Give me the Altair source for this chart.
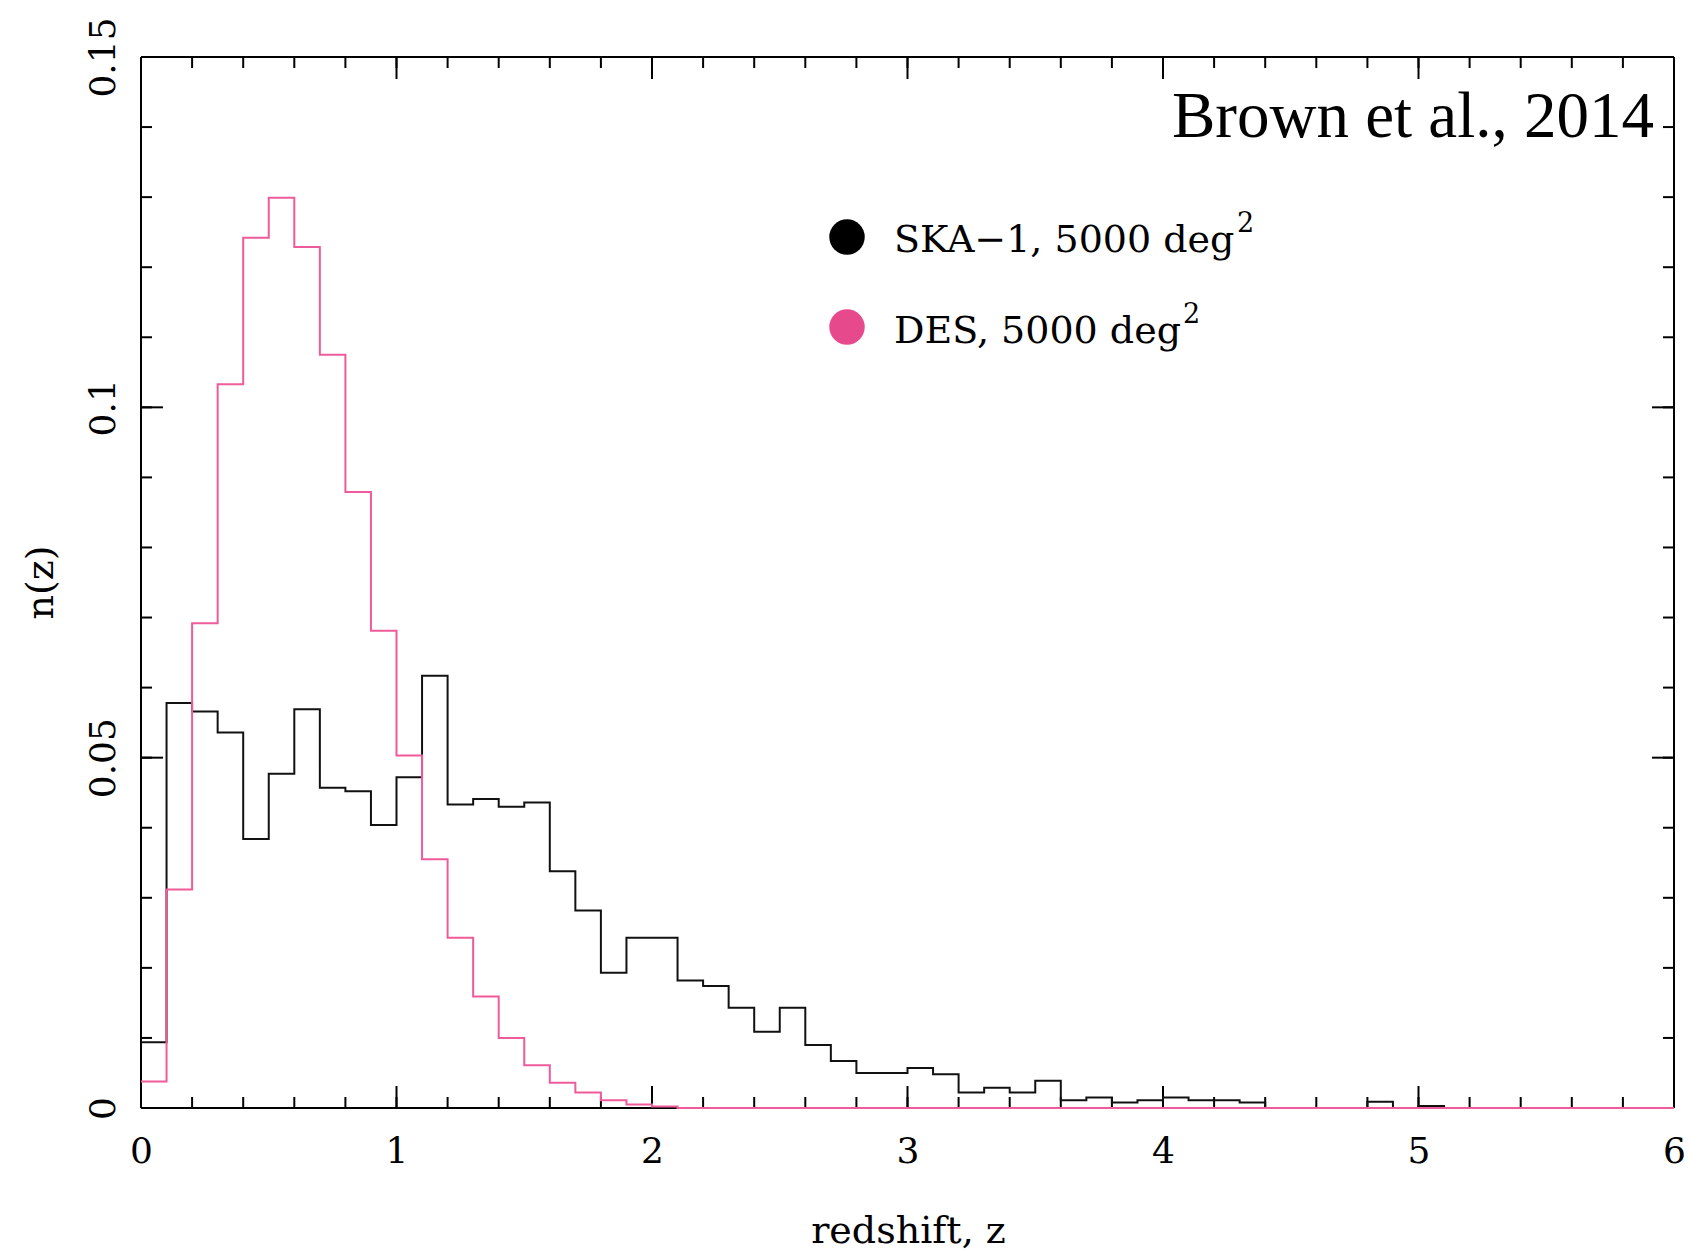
import altair as alt
import pandas as pd

# ---------------- data ----------------
# lower bin edges (width 0.1) from 0.0 to 5.9, plus the closing edge 6.0
z_edges = [0.0, 0.1, 0.2, 0.3, 0.4, 0.5, 0.6, 0.7, 0.8, 0.9,
           1.0, 1.1, 1.2, 1.3, 1.4, 1.5, 1.6, 1.7, 1.8, 1.9,
           2.0, 2.1, 2.2, 2.3, 2.4, 2.5, 2.6, 2.7, 2.8, 2.9,
           3.0, 3.1, 3.2, 3.3, 3.4, 3.5, 3.6, 3.7, 3.8, 3.9,
           4.0, 4.1, 4.2, 4.3, 4.4, 4.5, 4.6, 4.7, 4.8, 4.9,
           5.0, 5.1, 5.2, 5.3, 5.4, 5.5, 5.6, 5.7, 5.8, 5.9, 6.0]

ska_nz = [0.0094, 0.0578, 0.0566, 0.0536, 0.0384, 0.0477, 0.0569, 0.0457, 0.0452, 0.0404,
          0.0472, 0.0617, 0.0433, 0.0441, 0.0430, 0.0436, 0.0338, 0.0282, 0.0193, 0.0243,
          0.0243, 0.0182, 0.0174, 0.0143, 0.0109, 0.0143, 0.0090, 0.0067, 0.0050, 0.0050,
          0.0057, 0.0048, 0.0022, 0.0029, 0.0022, 0.0039, 0.0011, 0.0015, 0.0008, 0.0011,
          0.0015, 0.0011, 0.0011, 0.0008, 0.0, 0.0, 0.0, 0.0, 0.0009, 0.0,
          0.0003, 0.0, 0.0, 0.0, 0.0, 0.0, 0.0, 0.0, 0.0, 0.0]

des_nz = [0.0038, 0.0312, 0.0692, 0.1033, 0.1242, 0.1299, 0.1229, 0.1075, 0.0879, 0.0681,
          0.0503, 0.0355, 0.0243, 0.0159, 0.0100, 0.0061, 0.0036, 0.0022, 0.0011, 0.0005,
          0.0002, 0.0, 0.0, 0.0, 0.0, 0.0, 0.0, 0.0, 0.0, 0.0,
          0.0, 0.0, 0.0, 0.0, 0.0, 0.0, 0.0, 0.0, 0.0, 0.0,
          0.0, 0.0, 0.0, 0.0, 0.0, 0.0, 0.0, 0.0, 0.0, 0.0,
          0.0, 0.0, 0.0, 0.0, 0.0, 0.0, 0.0, 0.0, 0.0, 0.0]

x_tick_labels = [0, 1, 2, 3, 4, 5, 6]
y_tick_labels = [0, 0.05, 0.1, 0.15]
x_minor_ticks = [round(i * 0.2, 1) for i in range(31)]
y_minor_ticks = [round(i * 0.01, 2) for i in range(16)]

legend_labels = ["SKA\u22121, 5000 deg", "DES, 5000 deg"]
legend_sup = "2"
credit = "Brown et al., 2014"

# ---------------- styling ----------------
W, H = 1533, 1051
BLACK = "#000000"
PINK_LINE = "#ef5b9a"
PINK_DOT = "#e64a8c"
FONT = "DejaVu Serif"

def hist_df(vals):
    # step-after: each value starts at its lower edge; close with 0 at the last edge
    return pd.DataFrame({"z": z_edges, "n": list(vals) + [0.0]})

xscale = alt.Scale(domain=[0, 6], nice=False, zero=False)
yscale = alt.Scale(domain=[0, 0.15], nice=False, zero=False)

xaxis = alt.Axis(values=x_tick_labels, ticks=False, tickSize=0, domain=False, grid=False,
                 labelFont=FONT, labelFontSize=36, labelColor=BLACK, labelPadding=26,
                 labelFlush=False, labelLimit=600,
                 title="redshift, z", titleFont=FONT, titleFontSize=38, titleFontWeight="normal",
                 titleColor=BLACK, titleX=767, titleY=134, titleAlign="center",
                 titleBaseline="alphabetic")
yaxis = alt.Axis(values=y_tick_labels, ticks=False, tickSize=0, domain=False,
                 labelExpr="datum.value == 0 ? '0' : format(datum.value, '.2~f')",
                 grid=False, labelFont=FONT, labelFontSize=36, labelColor=BLACK,
                 labelAngle=270, labelAlign="center", labelBaseline="alphabetic",
                 labelPadding=27, labelFlush=False, labelLimit=600, labelOverlap=False,
                 title="n(z)", titleFont=FONT, titleFontSize=38, titleFontWeight="normal",
                 titleColor=BLACK, titleAngle=270, titleX=-89, titleY=525,
                 titleAlign="center", titleBaseline="alphabetic")

X = alt.X("z:Q", scale=xscale, axis=xaxis)
Y = alt.Y("n:Q", scale=yscale, axis=yaxis)

one = pd.DataFrame({"k": [0]})

# frame
frame = [
    alt.Chart(one).mark_rule(color=BLACK, strokeWidth=2).encode(
        x=alt.value(0), x2=alt.value(W), y=alt.value(H)),
    alt.Chart(one).mark_rule(color=BLACK, strokeWidth=2).encode(
        x=alt.value(0), x2=alt.value(W), y=alt.value(0)),
    alt.Chart(one).mark_rule(color=BLACK, strokeWidth=2).encode(
        x=alt.value(0), y=alt.value(0), y2=alt.value(H)),
    alt.Chart(one).mark_rule(color=BLACK, strokeWidth=2).encode(
        x=alt.value(W), y=alt.value(0), y2=alt.value(H)),
]

xmin_df = pd.DataFrame({"z": x_minor_ticks})
xmaj_df = pd.DataFrame({"z": x_tick_labels})
ymin_df = pd.DataFrame({"n": y_minor_ticks})
ymaj_df = pd.DataFrame({"n": y_tick_labels})

tick_mark = dict(color=BLACK, strokeWidth=2)
ticks = [
    alt.Chart(xmin_df).mark_rule(**tick_mark).encode(x=X, y=alt.value(H), y2=alt.value(H - 11)),
    alt.Chart(xmin_df).mark_rule(**tick_mark).encode(x=X, y=alt.value(0), y2=alt.value(11)),
    alt.Chart(xmaj_df).mark_rule(**tick_mark).encode(x=X, y=alt.value(H), y2=alt.value(H - 22)),
    alt.Chart(xmaj_df).mark_rule(**tick_mark).encode(x=X, y=alt.value(0), y2=alt.value(22)),
    alt.Chart(ymin_df).mark_rule(**tick_mark).encode(y=Y, x=alt.value(0), x2=alt.value(11)),
    alt.Chart(ymin_df).mark_rule(**tick_mark).encode(y=Y, x=alt.value(W), x2=alt.value(W - 11)),
    alt.Chart(ymaj_df).mark_rule(**tick_mark).encode(y=Y, x=alt.value(0), x2=alt.value(22)),
    alt.Chart(ymaj_df).mark_rule(**tick_mark).encode(y=Y, x=alt.value(W), x2=alt.value(W - 22)),
]

ska_line = alt.Chart(hist_df(ska_nz)).mark_line(
    interpolate="step-after", color="#111111", strokeWidth=2).encode(x=X, y=Y)
des_line = alt.Chart(hist_df(des_nz)).mark_line(
    interpolate="step-after", color=PINK_LINE, strokeWidth=2).encode(x=X, y=Y)

dot_ska = alt.Chart(one).mark_point(shape="circle", filled=True, opacity=1, size=1260,
                                    color=BLACK).encode(x=alt.value(706), y=alt.value(180))
dot_des = alt.Chart(one).mark_point(shape="circle", filled=True, opacity=1, size=1260,
                                    color=PINK_DOT).encode(x=alt.value(706), y=alt.value(270))
txt_ska = alt.Chart(one).mark_text(text=legend_labels[0], font=FONT, fontSize=38, align="left",
                                   baseline="alphabetic", color=BLACK).encode(
    x=alt.value(753), y=alt.value(195))
txt_des = alt.Chart(one).mark_text(text=legend_labels[1], font=FONT, fontSize=38, align="left",
                                   baseline="alphabetic", color=BLACK).encode(
    x=alt.value(753), y=alt.value(286))
sup_ska = alt.Chart(one).mark_text(text=legend_sup, font=FONT, fontSize=27, align="left",
                                   baseline="alphabetic", color=BLACK).encode(
    x=alt.value(1096), y=alt.value(175))
sup_des = alt.Chart(one).mark_text(text=legend_sup, font=FONT, fontSize=27, align="left",
                                   baseline="alphabetic", color=BLACK).encode(
    x=alt.value(1042), y=alt.value(266))
txt_credit = alt.Chart(one).mark_text(text=credit, font="Liberation Serif", fontSize=65,
                                      align="right", baseline="alphabetic", color=BLACK).encode(
    x=alt.value(1513), y=alt.value(80))

chart = alt.layer(
    *frame, *ticks, ska_line, des_line, dot_ska, dot_des, txt_ska, txt_des,
    sup_ska, sup_des, txt_credit
).properties(
    width=W, height=H,
    autosize=alt.AutoSizeParams(type="none"),
    padding={"left": 141, "top": 57, "right": 16, "bottom": 143},
    background="white",
).configure_view(stroke=None)

chart.save("out.html", embed_options={"renderer": "svg", "actions": False})
